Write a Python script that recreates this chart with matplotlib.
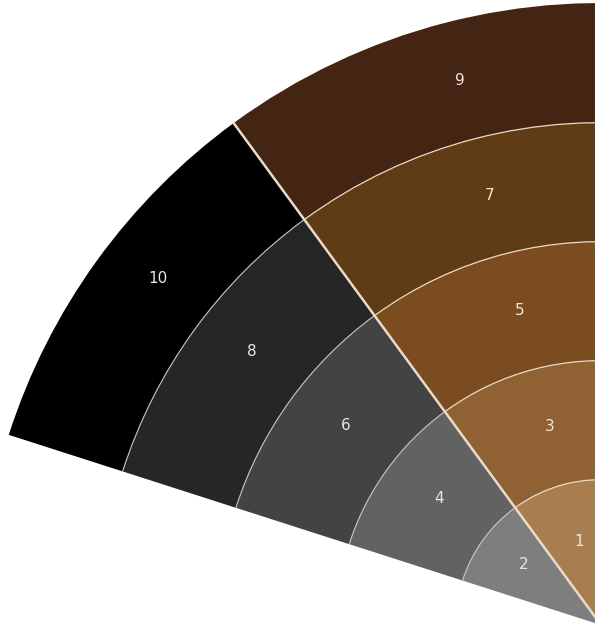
import numpy as np
import matplotlib.pyplot as plt
from matplotlib.patches import Wedge, Arc

# DATOS
brown_labels = ['1', '3', '5', '7', '9']
grey_labels = ['2', '4', '6', '8', '10']
brown_colors = ['#A87E51', '#8F6133', '#7A4C20', '#5F3B16', '#442412']
grey_colors = ['#7E7E7E', '#626262', '#434343', '#262626', '#000000']
ring_levels = [1, 2, 3, 4, 5]

# geometria (pixeles)
cx, cy = 601, 5
r0 = 27
step = 119
a_left, a_div, a_right = 162.2, 126.2, 82.8
cream = '#EADBC8'
light = '#C9C9C9'

fig = plt.figure(figsize=(5.95, 6.3), dpi=100)
ax = fig.add_axes([0, 0, 1, 1])
ax.set_xlim(0, 595)
ax.set_ylim(0, 630)
ax.set_aspect('equal')
ax.axis('off')

for i, lev in enumerate(ring_levels):
    r_in = r0 + (lev - 1) * step
    r_out = r_in + step
    w = r_out if lev == 1 else step
    ax.add_patch(Wedge((cx, cy), r_out, a_right, a_div, width=w,
                       facecolor=brown_colors[i], edgecolor='none'))
    ax.add_patch(Wedge((cx, cy), r_out, a_div, a_left, width=w,
                       facecolor=grey_colors[i], edgecolor='none'))
    # separadores entre anillos
    if lev < len(ring_levels):
        ax.add_patch(Arc((cx, cy), 2 * r_out, 2 * r_out, theta1=a_right, theta2=a_div,
                         color=cream, linewidth=1.8))
        ax.add_patch(Arc((cx, cy), 2 * r_out, 2 * r_out, theta1=a_div, theta2=a_left,
                         color=light, linewidth=1.6))

    rm = (r_in + r_out) / 2
    ang = np.radians(104.5)
    ax.text(cx + rm * np.cos(ang), cy + rm * np.sin(ang), brown_labels[i],
            ha='center', va='center', fontsize=11, color='#F0E6DA')
    rg = rm + (12 if lev == 1 else 0)
    ang = np.radians(142.0)
    ax.text(cx + rg * np.cos(ang), cy + rg * np.sin(ang), grey_labels[i],
            ha='center', va='center', fontsize=11, color='#E8E8E8')

# linea divisoria gris / marron
r_max = r0 + len(ring_levels) * step
ang = np.radians(a_div)
ax.plot([cx, cx + r_max * np.cos(ang)], [cy, cy + r_max * np.sin(ang)],
        color=cream, linewidth=1.8)

fig.savefig('out.png', dpi=100)
